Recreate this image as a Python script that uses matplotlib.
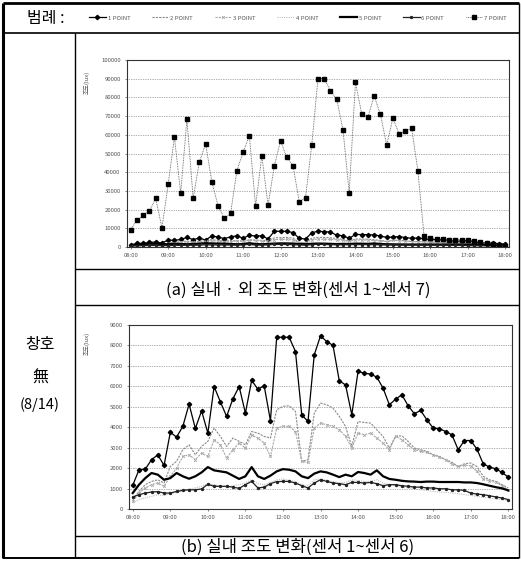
import numpy as np
import matplotlib
matplotlib.use("Agg")
import matplotlib.pyplot as plt

plt.rcParams["font.family"] = ["Noto Sans CJK KR", "DejaVu Sans"]

W, H = 521, 574

times = ["08:00", "09:00", "10:00", "11:00", "12:00", "13:00",
         "14:00", "15:00", "16:00", "17:00", "18:00"]
labels = ["1 POINT", "2 POINT", "3 POINT", "4 POINT", "5 POINT", "6 POINT", "7 POINT"]

# indoor sensors, lux, every 10 minutes from 08:00 to 18:00
p1 = [1160, 1920, 1950, 2410, 2650, 2130, 3750, 3520, 4040, 5130,
      3940, 4800, 3710, 5990, 5240, 4530, 5390, 5990, 4690, 6290,
      5860, 6030, 4320, 8400, 8400, 8400, 7700, 4610, 4280, 7540,
      8470, 8190, 8000, 6270, 6070, 4610, 6730, 6640, 6600, 6450,
      5910, 5100, 5370, 5590, 5050, 4660, 4820, 4360, 3960, 3930,
      3790, 3630, 2900, 3350, 3350, 2930, 2210, 2050, 1970, 1790, 1560]
p2 = [460, 860, 1190, 1350, 1430, 1270, 2080, 2330, 2900, 3140,
      2650, 3060, 3310, 3960, 3550, 3060, 3470, 3310, 3140, 3790,
      3710, 3550, 3470, 4850, 5020, 5050, 4770, 2330, 2410, 4690,
      5180, 5100, 4930, 4530, 4040, 3060, 4280, 4230, 4200, 3880,
      3550, 2980, 3550, 3580, 3310, 2980, 2900, 2820, 2650, 2570,
      2410, 2280, 2080, 2210, 2250, 2080, 1600, 1430, 1350, 1190, 1030]
p3 = [370, 780, 1030, 1190, 1270, 1110, 1600, 2000, 2570, 2650,
      2410, 2740, 2570, 3390, 3140, 2490, 2900, 3220, 2980, 3630,
      3470, 3220, 2570, 3960, 4040, 4040, 3790, 2330, 2280, 3960,
      4200, 4120, 4040, 3880, 3550, 2980, 3710, 3630, 3710, 3470,
      3220, 2900, 3550, 3390, 3140, 2900, 2820, 2770, 2650, 2540,
      2410, 2200, 2080, 2150, 2120, 1840, 1470, 1380, 1300, 1140, 940]
p4 = [290, 460, 540, 620, 700, 650, 750, 810, 910, 980,
      1030, 1110, 1240, 1190, 1110, 1070, 1140, 1190, 1270, 1430,
      1240, 1190, 1300, 1430, 1470, 1400, 1350, 1190, 1140, 1430,
      1470, 1400, 1340, 1270, 1300, 1430, 1400, 1350, 1350, 1430,
      1270, 1190, 1140, 1070, 1030, 980, 940, 910, 860, 830,
      810, 780, 750, 700, 670, 620, 570, 540, 490, 460, 420]
p5 = [780, 1190, 1510, 1760, 1680, 1430, 1510, 1760, 1600, 1480,
      1600, 1790, 2050, 1890, 1840, 1790, 1630, 1470, 1600, 2050,
      1600, 1470, 1630, 1840, 1950, 1920, 1840, 1600, 1510, 1730,
      1840, 1790, 1680, 1560, 1680, 1600, 1810, 1760, 1680, 1890,
      1600, 1470, 1430, 1380, 1350, 1340, 1320, 1340, 1340, 1320,
      1320, 1320, 1320, 1300, 1300, 1270, 1210, 1140, 1070, 1010, 910]
p6 = [590, 700, 780, 830, 850, 780, 780, 860, 910, 940,
      940, 980, 1210, 1110, 1110, 1110, 1070, 1010, 1190, 1350,
      1030, 1070, 1240, 1340, 1350, 1350, 1270, 1140, 1030, 1270,
      1430, 1350, 1270, 1240, 1190, 1300, 1300, 1270, 1300, 1240,
      1140, 1190, 1190, 1140, 1110, 1070, 1070, 1030, 1030, 990,
      990, 940, 940, 910, 780, 730, 700, 650, 590, 540, 460]
# outdoor sensor, lux
p7 = [9300, 14400, 16900, 19200, 26000, 10200, 33600, 58700, 28700, 68200,
      26000, 45600, 55100, 34800, 21900, 15300, 18000, 40800, 50600, 59600,
      21900, 48800, 22300, 43400, 56900, 47900, 43400, 24200, 26400, 54600,
      90100, 90100, 83500, 79000, 62800, 29100, 88000, 71300, 69500, 80800,
      70900, 54600, 68900, 60500, 61900, 63600, 40800, 5700, 4800, 4300,
      4300, 4000, 4000, 4000, 3600, 3000, 2700, 2200, 1800, 1300, 700]

indoor = [p1, p2, p3, p4, p5, p6]
styles = [
    dict(color="black", lw=0.9, marker="D", ms=2.2),
    dict(color="#8a8a8a", lw=0.8, ls=(0, (2, 1))),
    dict(color="#a8a8a8", lw=0.8, ls=(0, (2, 1)), marker="x", ms=2, mew=0.6),
    dict(color="#bdbdbd", lw=0.8, ls=(0, (1, 1))),
    dict(color="black", lw=1.6),
    dict(color="#222222", lw=0.9, marker="o", ms=1.4),
    dict(color="#555555", lw=0.6, ls=(0, (1, 1)), marker="s", ms=3,
         mfc="black", mec="black"),
]


def box(x0, y0, x1, y1):
    return [x0 / W, 1 - y1 / H, (x1 - x0) / W, (y1 - y0) / H]


def style_axes(ax, ymax, step):
    x = np.arange(61)
    ax.set_xlim(-0.6, 60.6)
    ax.set_ylim(0, ymax)
    ax.set_xticks(np.arange(0, 61, 6))
    ax.set_xticklabels(times)
    ax.set_yticks(np.arange(0, ymax + 1, step))
    ax.set_yticklabels([str(v) for v in range(0, ymax + 1, step)])
    ax.tick_params(labelsize=4.3, colors="#555555", length=1.5, width=0.5, pad=3)
    ax.grid(axis="y", color="#666666", lw=0.5, ls=(0, (1, 1.5)))
    for s in ax.spines.values():
        s.set_linewidth(0.8)
        s.set_color("#333333")
    return x


fig = plt.figure(figsize=(W / 100, H / 100), dpi=100)

# (a) indoor + outdoor
ax1 = fig.add_axes(box(127, 60, 509, 247))
x = style_axes(ax1, 100000, 10000)
handles = []
for vals, st in zip(indoor + [p7], styles):
    h, = ax1.plot(x, vals, **st)
    handles.append(h)
ax1.text(-0.105, 0.88, "조도(lux)", transform=ax1.transAxes, rotation=90,
         fontsize=4.3, color="#555555", ha="center", va="center")

# (b) indoor only
ax2 = fig.add_axes(box(129, 325, 512, 509))
x = style_axes(ax2, 9000, 1000)
for vals, st in zip(indoor, styles[:6]):
    ax2.plot(x, vals, **st)
ax2.text(-0.11, 0.9, "조도(lux)", transform=ax2.transAxes, rotation=90,
         fontsize=4.3, color="#555555", ha="center", va="center")

# table frame, captions and legend row
fr = fig.add_axes([0, 0, 1, 1], zorder=-1)
fr.set_xlim(0, W)
fr.set_ylim(H, 0)
fr.axis("off")
k = dict(color="black", solid_capstyle="butt")
fr.plot([3, 3], [3, 558], lw=2.2, **k)
fr.plot([3, 519], [3, 3], lw=2.0, **k)
fr.plot([519, 519], [3, 558], lw=1.0, **k)
fr.plot([3, 519], [558, 558], lw=1.4, **k)
fr.plot([3, 519], [33, 33], lw=1.2, **k)
fr.plot([75, 75], [33, 558], lw=1.0, **k)
fr.plot([75, 519], [269, 269], lw=1.0, **k)
fr.plot([75, 519], [305, 305], lw=1.0, **k)
fr.plot([75, 519], [536, 536], lw=1.0, **k)

fr.text(298, 290, "(a) 실내 · 외 조도 변화(센서 1~센서 7)", fontsize=12,
        ha="center", va="center")
fr.text(298, 547, "(b) 실내 조도 변화(센서 1~센서 6)", fontsize=12,
        ha="center", va="center")
fr.text(40, 345, "창호", fontsize=11.5, ha="center", va="center")
fr.text(40, 378, "無", fontsize=11.5, ha="center", va="center")
fr.text(40, 405, "(8/14)", fontsize=10.5, ha="center", va="center")
fr.text(46, 18, "범례 :", fontsize=11.5, ha="center", va="center")

fig.legend(handles, labels, loc="center", bbox_to_anchor=(298 / W, 1 - 18 / H),
           ncol=7, frameon=False, fontsize=4.3, handlelength=2.8,
           handletextpad=0.3, columnspacing=3.6, labelcolor="#555555")

fig.savefig("out.png", dpi=100)
